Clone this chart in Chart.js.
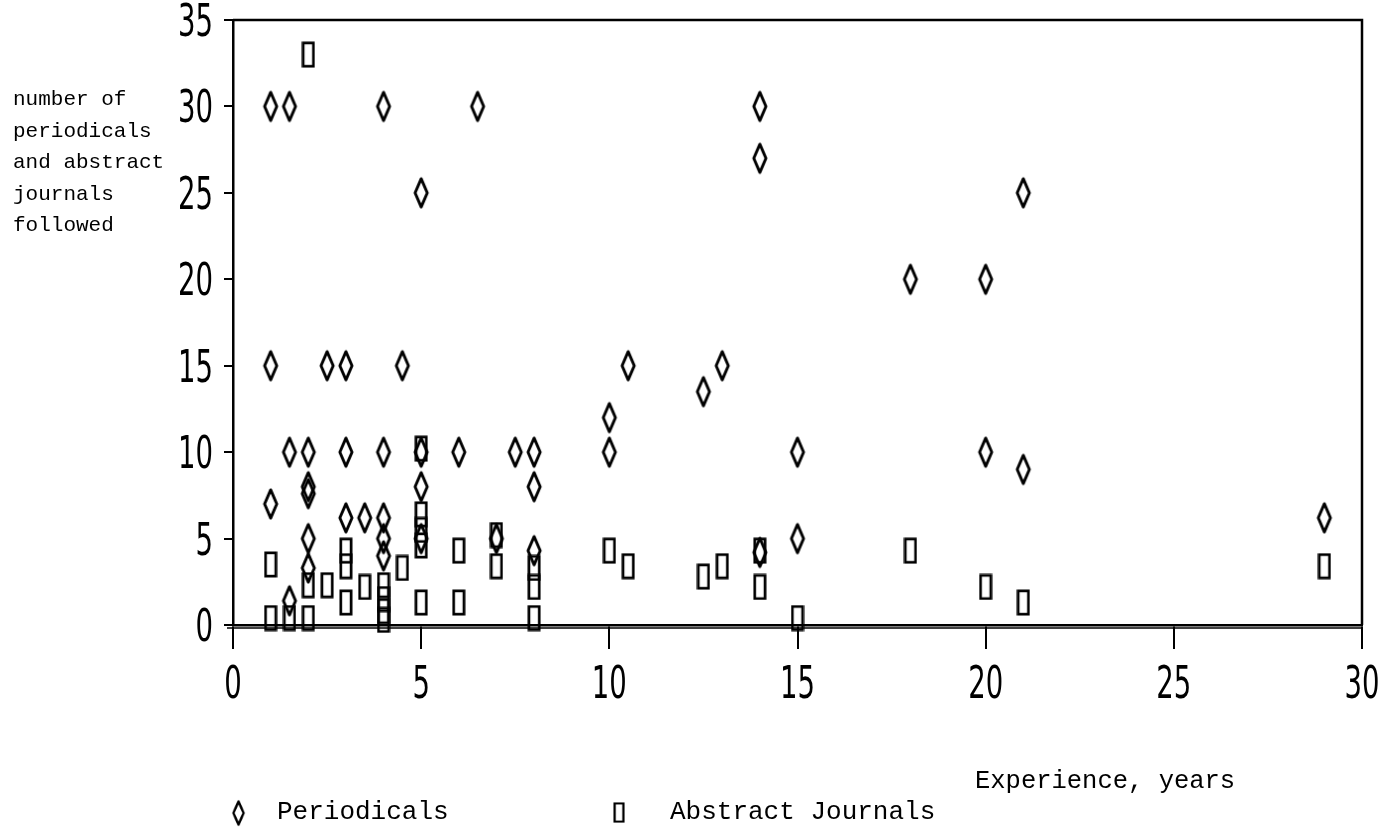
<!DOCTYPE html>
<html>
<head>
<meta charset="utf-8">
<script src="https://cdn.jsdelivr.net/npm/chart.js@4.4.1/dist/chart.umd.min.js"></script>
<style>
  html, body { margin: 0; padding: 0; background: #fff; }
  canvas { display: block; }
</style>
</head>
<body>
<canvas id="scatterChart" width="1378" height="833"></canvas>
<script>
// valores: [anos de experiência, número acompanhado]
const periodicals = [
  [1, 30], [1.5, 30], [4, 30], [6.5, 30], [14, 30], [14, 27], [5, 25], [21, 25],
  [18, 20], [20, 20],
  [1, 15], [2.5, 15], [3, 15], [4.5, 15], [10.5, 15], [13, 15], [12.5, 13.5], [10, 12],
  [1.5, 10], [2, 10], [3, 10], [4, 10], [5, 10], [6, 10], [7.5, 10], [8, 10],
  [10, 10], [15, 10], [20, 10], [21, 9],
  [2, 7.6], [2, 8], [5, 8], [8, 8], [1, 7],
  [3, 6.2], [3.5, 6.2], [4, 6.2], [29, 6.2],
  [2, 5], [4, 5], [5, 5], [7, 5], [15, 5],
  [4, 4], [14, 4.2], [8, 4.3], [2, 3.3], [1.5, 1.4]
];
const abstractJournals = [
  [2, 33],
  [1, 3.5], [1, 0.4], [1.5, 0.4], [2, 0.4], [2, 2.3], [2.5, 2.3],
  [3, 4.3], [3, 3.4], [3, 1.3], [3.5, 2.2],
  [4, 2.3], [4, 1.5], [4, 0.8], [4, 0.3], [4.5, 3.3],
  [5, 10.2], [5, 6.4], [5, 5.5], [5, 4.6], [5, 1.3],
  [6, 4.3], [6, 1.3], [7, 5.2], [7, 3.4],
  [8, 3.3], [8, 2.2], [8, 0.4],
  [10, 4.3], [10.5, 3.4], [12.5, 2.8], [13, 3.4], [14, 4.3], [14, 2.2], [15, 0.4],
  [18, 4.3], [20, 2.2], [21, 1.3], [29, 3.4]
];
const xTicks = [0, 5, 10, 15, 20, 25, 30];
const yTicks = [0, 5, 10, 15, 20, 25, 30, 35];
const yTitleLines = ['number of', 'periodicals', 'and abstract', 'journals', 'followed'];
const xTitle = 'Experience, years';
const seriesNames = ['Periodicals', 'Abstract Journals'];

// marcadores desenhados à mão (losango alto e retângulo alto)
function makeDiamond(w, h, lw) {
  const c = document.createElement('canvas');
  c.width = w; c.height = h;
  const g = c.getContext('2d');
  g.strokeStyle = '#000';
  g.lineWidth = lw;
  g.lineJoin = 'round';
  g.beginPath();
  g.moveTo(w / 2, lw);
  g.lineTo(w - lw, h / 2);
  g.lineTo(w / 2, h - lw);
  g.lineTo(lw, h / 2);
  g.closePath();
  g.stroke();
  return c;
}
function makeBox(w, h, lw) {
  const c = document.createElement('canvas');
  c.width = w; c.height = h;
  const g = c.getContext('2d');
  g.strokeStyle = '#000';
  g.lineWidth = lw;
  g.strokeRect(lw / 2 + 0.5, lw / 2 + 0.5, w - lw - 1, h - lw - 1);
  return c;
}
const diamondImg = makeDiamond(18, 34, 2.9);
const boxImg = makeBox(14, 27, 2.7);

const toPoints = arr => arr.map(p => ({ x: p[0], y: p[1] }));

const mono = '"Liberation Mono", "DejaVu Sans Mono", monospace';
const narrow = '"Liberation Sans Narrow", "DejaVu Sans Condensed", sans-serif';

// moldura, rótulos e legenda estilo plotter
const plotterDecor = {
  id: 'plotterDecor',
  beforeDatasetsDraw(chart) {
    const { ctx, chartArea: a } = chart;
    ctx.save();
    ctx.strokeStyle = '#000';
    ctx.lineWidth = 2.5;
    ctx.beginPath();
    ctx.moveTo(a.left, a.top); ctx.lineTo(a.right, a.top); ctx.lineTo(a.right, a.bottom);
    ctx.stroke();
    ctx.lineWidth = 1.5;
    ctx.beginPath();
    ctx.moveTo(a.left - 6, a.bottom + 3); ctx.lineTo(a.right, a.bottom + 3);
    ctx.stroke();
    ctx.restore();
  },
  afterDraw(chart) {
    const { ctx, scales } = chart;
    ctx.save();
    ctx.fillStyle = '#000';
    ctx.font = '45px ' + narrow;
    ctx.textBaseline = 'alphabetic';
    // eixo Y
    yTicks.forEach(v => {
      const py = scales.y.getPixelForValue(v);
      ctx.save();
      ctx.translate(213, py + 16);
      ctx.scale(0.68, 1);
      ctx.textAlign = 'right';
      ctx.fillText(String(v), 0, 0);
      ctx.restore();
    });
    // eixo X
    xTicks.forEach(v => {
      const px = scales.x.getPixelForValue(v);
      ctx.save();
      ctx.translate(px, 698);
      ctx.scale(0.68, 1);
      ctx.textAlign = 'center';
      ctx.fillText(String(v), 0, 0);
      ctx.restore();
    });
    // títulos
    ctx.textAlign = 'left';
    ctx.font = '21px ' + mono;
    yTitleLines.forEach((t, i) => ctx.fillText(t, 13, 105 + i * 31.5));
    ctx.font = '25.5px ' + mono;
    ctx.fillText(xTitle, 975, 788);
    // legenda
    ctx.font = '26px ' + mono;
    ctx.drawImage(diamondImg, 231, 799, 15, 28);
    ctx.fillText(seriesNames[0], 277, 819);
    ctx.drawImage(boxImg, 613, 802, 12, 21);
    ctx.fillText(seriesNames[1], 670, 819);
    ctx.restore();
  }
};

const ctx = document.getElementById('scatterChart').getContext('2d');
const scatterChart = new Chart(ctx, {
  type: 'scatter',
  data: {
    datasets: [
      {
        label: seriesNames[0],
        data: toPoints(periodicals),
        pointStyle: diamondImg,
        clip: false
      },
      {
        label: seriesNames[1],
        data: toPoints(abstractJournals),
        pointStyle: boxImg,
        clip: false
      }
    ]
  },
  options: {
    responsive: false,
    animation: false,
    devicePixelRatio: 1,
    layout: { padding: { top: 20, right: 16, left: 0, bottom: 0 } },
    plugins: {
      legend: { display: false },
      tooltip: { enabled: false }
    },
    scales: {
      x: {
        type: 'linear',
        min: 0,
        max: 30,
        afterBuildTicks: s => { s.ticks = xTicks.map(v => ({ value: v })); },
        afterFit: s => { s.height = 208; },
        ticks: { display: false },
        grid: { drawOnChartArea: false, drawTicks: true, tickLength: 24, color: '#000', lineWidth: 2 },
        border: { color: '#000', width: 2.5 }
      },
      y: {
        type: 'linear',
        min: 0,
        max: 35,
        afterBuildTicks: s => { s.ticks = yTicks.map(v => ({ value: v })); },
        afterFit: s => { s.width = 233; },
        ticks: { display: false },
        grid: { drawOnChartArea: false, drawTicks: true, tickLength: 9, color: '#000', lineWidth: 2 },
        border: { color: '#000', width: 2.5 }
      }
    }
  },
  plugins: [plotterDecor]
});
</script>
</body>
</html>
